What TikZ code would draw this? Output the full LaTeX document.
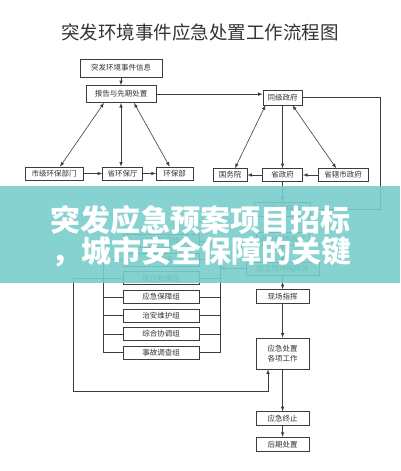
\documentclass[tikz,border=0pt]{standalone}
\usepackage{fontspec}
\newfontfamily\cjk{Noto Sans CJK SC}
\usetikzlibrary{positioning,arrows}
\tikzset{every picture/.style={line width=0.6pt}}
\definecolor{linegray}{RGB}{60,60,60}
\definecolor{bannerteal}{RGB}{120,205,203}

\begin{document}
\begin{tikzpicture}[x=1pt, y=-1pt, node distance=5pt, >=latex,
    box/.style={draw=linegray, fill=white, inner sep=0pt, minimum height=13pt, font=\cjk\fontsize{7.5}{10}\selectfont, text=black!80},
    group/.style={box, minimum width=76pt},
    flow/.style={box, minimum width=53pt, minimum height=14pt},
    link/.style={draw=linegray, ->},
    both/.style={draw=linegray, <->},
    line/.style={draw=linegray}]
    \useasboundingbox (0,0) rectangle (400,471);

    % Title
    \node[font=\cjk\fontsize{18.5}{20}\selectfont, text=black!80] (title) at (200,32) {突发环境事件应急处置工作流程图};

    % Reporting
    \node[box, minimum width=82pt, minimum height=18pt] (info) at (121,68) {突发环境事件信息};
    \node[box, minimum width=70pt, minimum height=17pt, below=8pt of info] (report) {报告与先期处置};
    \node[box, minimum width=39pt, minimum height=15pt] (samegov) at (282.5,97.5) {同级政府};

    % Environmental departments
    \node[box, minimum width=58pt] (cityepb) at (54,173.5) {市级环保部门};
    \node[box, minimum width=40pt, right=19pt of cityepb] (provepb) {省环保厅};
    \node[box, minimum width=37pt, right=13pt of provepb] (mep) {环保部};

    % Governments
    \node[box, minimum width=34pt] (council) at (230,175) {国务院};
    \node[box, minimum width=40pt, right=15pt of council] (provgov) {省政府};
    \node[box, minimum width=50pt, right=15pt of provgov] (citygov) {省辖市政府};

    % Response chain
    \node[flow, minimum width=56pt, below=20pt of provgov] (command) {应急指挥部};
    \node[flow, minimum height=13pt, below=16pt of command] (start) {启动应急响应};
    \node[flow, minimum width=73pt, minimum height=13pt, below=15.5pt of start] (setup) {成立现场指挥部};
    \node[flow, below=14pt of setup] (site) {现场指挥};
    \node[flow, minimum height=31pt, align=center, below=34pt of site] (work) {应急处置\\各项工作};
    \node[flow, below=42pt of work] (stop) {应急终止};
    \node[flow, below=11pt of stop] (post) {后期处置};

    % Working groups
    \node[group] (g1) at (161,241) {应急监测组};
    \node[group, below=of g1] (g2) {专家组};
    \node[group, below=of g2] (g3) {医疗救援组};
    \node[group, below=of g3] (g4) {应急保障组};
    \node[group, below=of g4] (g5) {治安维护组};
    \node[group, below=of g5] (g6) {综合协调组};
    \node[group, below=of g6] (g7) {事故调查组};

    \coordinate (lx) at (103,0);
    \coordinate (rx) at (220,0);
    \coordinate (ox) at (73,391);
    \coordinate (wx) at (268,0);
    \coordinate (rline) at (380,0);

    % Connections
    \draw[link] (info) -- (report);
    \draw[link] (report.east) -- (report.east -| samegov.west);
    \draw[both] ([xshift=-17pt]report.south) -- ([xshift=6pt]cityepb.north);
    \draw[both] (report.south) -- (report.south |- provepb.north);
    \draw[both] ([xshift=13pt]report.south) -- ([xshift=-5pt]mep.north);
    \draw[link] (cityepb) -- (provepb);
    \draw[link] (provepb) -- (mep);
    \draw[both] ([xshift=-17pt]samegov.south) -- ([xshift=5pt]council.north);
    \draw[link] (samegov.south) -- (samegov.south |- provgov.north);
    \draw[both] ([xshift=10pt]samegov.south) -- ([xshift=-7pt]citygov.north);
    \draw[link] (provgov) -- (council);
    \draw[link] (citygov) -- (provgov);
    \draw[link] (samegov.east) -- (samegov.east -| rline) -- (rline |- command.east) -- (command.east);
    \draw[link] (provgov) -- (command);
    \draw[link] (command) -- (start);
    \draw[link] (start) -- (setup);
    \draw[link] (setup) -- (site);
    \draw[link] (site) -- (work);
    \draw[link] (work) -- (stop);
    \draw[link] (stop) -- (post);

    % Brackets round the groups
    \foreach \g in {g1,g2,g3,g4,g5,g6,g7} {
        \draw[line] (\g.west) -- (\g.west -| lx);
        \draw[line] (\g.east) -- (\g.east -| rx);
    }
    \draw[line] (g1.west -| lx) -- (g7.west -| lx);
    \draw[line] (g1.east -| rx) -- (g7.east -| rx);
    \draw[link] (setup.west) -- (setup.west -| rx);
    \draw[link] (g3.west -| lx) -- (g3.west -| ox) -- (ox) -- (ox -| wx) -- (wx |- work.south);

    % Banner
    \fill[bannerteal, opacity=0.9] (0,186) rectangle (400,283);
    \node[font=\cjk\bfseries\fontsize{30}{31}\selectfont, text=white] (bannerA) at (200,220) {突发应急预案项目招标};
    \node[font=\cjk\bfseries\fontsize{30}{31}\selectfont, text=white] (bannerB) at (201,252) {，城市安全保障的关键};
\end{tikzpicture}
\end{document}
